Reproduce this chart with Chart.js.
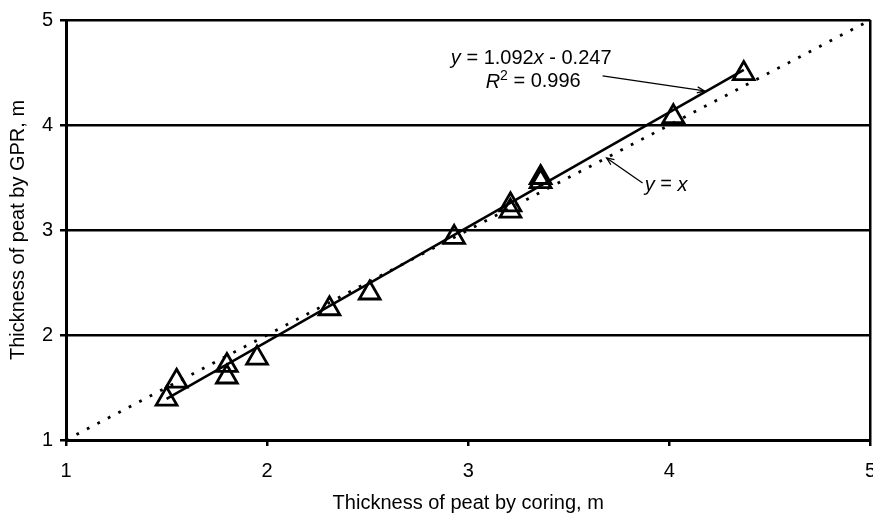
<!DOCTYPE html>
<html>
<head>
<meta charset="utf-8">
<script src="https://cdn.jsdelivr.net/npm/chart.js@4"></script>
<style>
  html, body { margin: 0; padding: 0; background: #fff; overflow: hidden; width: 873px; height: 516px; }
  canvas { display: block; }
</style>
</head>
<body>
<canvas id="c" width="876" height="516"></canvas>
<script>
// ---- data ----
const coringX = [1.50, 1.55, 1.80, 1.80, 1.95, 2.31, 2.51, 2.93, 3.21, 3.21, 3.36, 3.36, 4.02, 4.37];
const gprY    = [1.39, 1.56, 1.71, 1.60, 1.78, 2.25, 2.40, 2.93, 3.24, 3.18, 3.50, 3.46, 4.08, 4.49];
const trendX  = [1.50, 4.37];
const trendY  = [1.391, 4.525];
const identX  = [1, 5];
const identY  = [1, 5];
const xTicks  = [1, 2, 3, 4, 5];
const yTicks  = [1, 2, 3, 4, 5];
const xTitle  = 'Thickness of peat by coring, m';
const yTitle  = 'Thickness of peat by GPR, m';
const eqLine1 = [{t:'y', it:true}, {t:' = 1.092'}, {t:'x', it:true}, {t:' - 0.247'}];
const eqLine2 = [{t:'R', it:true}, {t:'2', sup:true}, {t:' = 0.996'}];
const idLabel = [{t:'y', it:true}, {t:' = '}, {t:'x', it:true}];

const FONT = "'Liberation Sans', Arial, sans-serif";
const toPts = (xs, ys) => xs.map((x, i) => ({x, y: ys[i]}));

function drawRuns(ctx, runs, cx, cy, size) {
  const fontFor = r => (r.it ? 'italic ' : '') + (r.sup ? Math.round(size * 0.7) : size) + 'px ' + FONT;
  let total = 0;
  const widths = runs.map(r => { ctx.font = fontFor(r); const w = ctx.measureText(r.t).width; total += w; return w; });
  let x = cx - total / 2;
  ctx.textBaseline = 'middle';
  ctx.textAlign = 'left';
  ctx.fillStyle = '#000';
  runs.forEach((r, i) => {
    ctx.font = fontFor(r);
    ctx.fillText(r.t, x, r.sup ? cy - size * 0.28 : cy);
    x += widths[i];
  });
}
function arrow(ctx, x1, y1, x2, y2) {
  ctx.save();
  ctx.strokeStyle = '#000';
  ctx.lineWidth = 1.3;
  ctx.beginPath(); ctx.moveTo(x1, y1); ctx.lineTo(x2, y2); ctx.stroke();
  const a = Math.atan2(y2 - y1, x2 - x1), L = 8, s = 0.4;
  ctx.beginPath();
  ctx.moveTo(x2 - L * Math.cos(a - s), y2 - L * Math.sin(a - s));
  ctx.lineTo(x2, y2);
  ctx.lineTo(x2 - L * Math.cos(a + s), y2 - L * Math.sin(a + s));
  ctx.stroke();
  ctx.restore();
}

const annotations = {
  id: 'annotations',
  afterDatasetsDraw(chart) {
    const {ctx, scales: {x, y}} = chart;
    const P = (vx, vy) => [x.getPixelForValue(vx), y.getPixelForValue(vy)];
    ctx.save();
    let p = P(3.313, 4.638); drawRuns(ctx, eqLine1, p[0], p[1], 20);
    p = P(3.323, 4.41);     drawRuns(ctx, eqLine2, p[0], p[1], 20);
    let a = P(3.668, 4.467), b = P(4.175, 4.324); arrow(ctx, a[0], a[1], b[0], b[1]);
    p = P(3.984, 3.429);    drawRuns(ctx, idLabel, p[0], p[1], 20);
    a = P(3.867, 3.448); b = P(3.688, 3.686); arrow(ctx, a[0], a[1], b[0], b[1]);
    ctx.restore();
  }
};

new Chart(document.getElementById('c'), {
  type: 'scatter',
  data: {
    datasets: [
      {
        label: 'GPR vs coring',
        data: toPts(coringX, gprY),
        pointStyle: 'triangle',
        pointRadius: 12,
        pointHoverRadius: 12,
        borderColor: '#000',
        backgroundColor: 'rgba(0,0,0,0)',
        borderWidth: 2.8,
        order: 3
      },
      {
        label: 'Trend',
        data: toPts(trendX, trendY),
        showLine: true,
        pointRadius: 0,
        borderColor: '#000',
        borderWidth: 2.5,
        order: 2
      },
      {
        label: 'y = x',
        data: toPts(identX, identY),
        showLine: true,
        pointRadius: 0,
        borderColor: '#000',
        borderWidth: 2.8,
        borderDash: [2.8, 9],
        order: 1
      }
    ]
  },
  options: {
    responsive: false,
    animation: false,
    devicePixelRatio: 1,
    layout: { autoPadding: false, padding: { top: 20, right: 0, bottom: 0, left: 0 } },
    plugins: { legend: { display: false }, tooltip: { enabled: false } },
    scales: {
      x: {
        type: 'linear', min: 1, max: 5,
        afterBuildTicks: s => { s.ticks = xTicks.map(v => ({value: v})); },
        afterFit: s => { s.height = 76; },
        ticks: { color: '#000', font: { family: FONT, size: 20, lineHeight: 2.5 }, padding: 0, maxRotation: 0 },
        grid: {
          color: c => (c.tick && c.tick.value === 5) ? '#000' : 'rgba(0,0,0,0)',
          lineWidth: 2.5, tickColor: '#000', tickWidth: 2.5, tickLength: 6, drawTicks: true
        },
        border: { display: true, color: '#000', width: 3 },
        title: { display: true, text: xTitle, color: '#000', font: { family: FONT, size: 20 }, padding: { top: 0, bottom: 1 } }
      },
      y: {
        type: 'linear', min: 1, max: 5,
        afterBuildTicks: s => { s.ticks = yTicks.map(v => ({value: v})); },
        afterFit: s => { s.width = 66; },
        ticks: { color: '#000', font: { family: FONT, size: 20 }, padding: 7 },
        grid: { color: '#000', lineWidth: 2.5, tickColor: '#000', tickWidth: 2.5, tickLength: 6 },
        border: { display: true, color: '#000', width: 3 },
        title: { display: true, text: yTitle, color: '#000', font: { family: FONT, size: 20 }, padding: { top: 6, bottom: 0 } }
      }
    }
  },
  plugins: [annotations]
});
</script>
</body>
</html>
